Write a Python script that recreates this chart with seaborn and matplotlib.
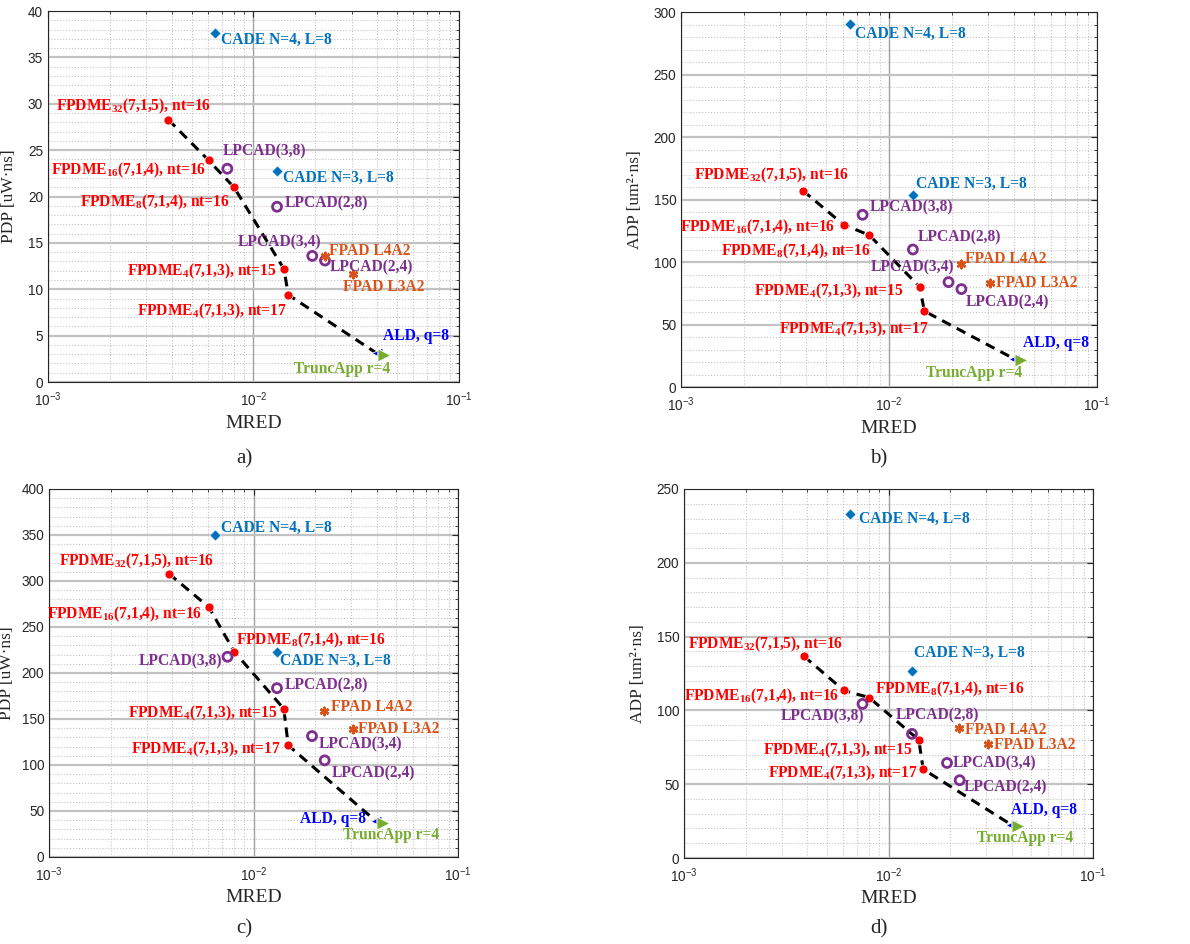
import numpy as np
import pandas as pd
import matplotlib
matplotlib.use('Agg')
import matplotlib.pyplot as plt
import seaborn as sns
from matplotlib.ticker import MultipleLocator, LogLocator, NullFormatter, FixedLocator, FixedFormatter

# data
designs = ['CADE4', 'CADE3', 'FPDME32', 'FPDME16', 'FPDME8', 'FPDME4_15', 'FPDME4_17',
           'LPCAD38', 'LPCAD28', 'LPCAD34', 'LPCAD24', 'FPADL4A2', 'FPADL3A2', 'ALD', 'TRUNC']
families = ['CADE', 'CADE', 'FPDME', 'FPDME', 'FPDME', 'FPDME', 'FPDME',
            'LPCAD', 'LPCAD', 'LPCAD', 'LPCAD', 'FPAD', 'FPAD', 'ALD', 'TruncApp']
labels = ['CADE N=4, L=8', 'CADE N=3, L=8',
          r'FPDME$\mathregular{_{32}}$(7,1,5), nt=16', r'FPDME$\mathregular{_{16}}$(7,1,4), nt=16',
          r'FPDME$\mathregular{_{8}}$(7,1,4), nt=16', r'FPDME$\mathregular{_{4}}$(7,1,3), nt=15',
          r'FPDME$\mathregular{_{4}}$(7,1,3), nt=17',
          'LPCAD(3,8)', 'LPCAD(2,8)', 'LPCAD(3,4)', 'LPCAD(2,4)', 'FPAD L4A2', 'FPAD L3A2',
          'ALD, q=8', 'TruncApp r=4']
mred = [0.00651, 0.01297, 0.00385, 0.00605, 0.00804, 0.01406, 0.01478,
        0.00746, 0.01302, 0.01932, 0.02228, 0.02220, 0.0305, 0.0398, 0.0430]
pdp_a = [37.6, 22.8, 28.3, 23.9, 21.0, 12.2, 9.4, 23.0, 18.9, 13.6, 13.1, 13.6, 11.6, 3.1, 2.9]
adp_b = [290.7, 153.9, 157.3, 129.9, 121.6, 80.0, 60.8, 137.9, 110.1, 84.0, 78.4, 98.7, 83.2, 22.7, 21.9]
pdp_c = [350.4, 223.0, 308.1, 271.5, 223.3, 161.1, 121.3, 217.6, 183.5, 131.4, 105.0, 158.6, 139.4, 38.7, 36.6]
adp_d = [233.0, 126.4, 136.8, 113.5, 108.7, 80.0, 60.1, 104.4, 84.1, 64.4, 52.7, 88.2, 77.1, 22.6, 21.5]
front = ['FPDME32', 'FPDME16', 'FPDME8', 'FPDME4_15', 'FPDME4_17', 'ALD']

df = pd.DataFrame({'design': designs, 'family': families, 'label': labels, 'MRED': mred,
                   'a': pdp_a, 'b': adp_b, 'c': pdp_c, 'd': adp_d})

styles = {
    'CADE': dict(marker='D', color='#0072BD', s=32),
    'FPDME': dict(marker='o', color='#FF0000', s=42),
    'LPCAD': dict(marker='o', facecolor='none', edgecolor='#7E2F8E', s=42, linewidth=2.0),
    'FPAD': dict(marker=(6, 2, 0), color='#D95319', s=28, linewidth=1.8),
    'ALD': dict(marker='<', color='#0000FF', s=60),
    'TruncApp': dict(marker='>', color='#77AC30', s=90),
}
text_colors = {'CADE': '#0072BD', 'FPDME': '#FF0000', 'LPCAD': '#7E2F8E',
               'FPAD': '#D95319', 'ALD': '#0000FF', 'TruncApp': '#77AC30'}

# label placement (pixel offsets from the marker, alignment)
offsets = {
    'a': {'CADE4': (6, -7, 'left'), 'CADE3': (6, -7, 'left'), 'FPDME32': (43, 13, 'right'),
          'FPDME16': (-2, -10, 'right'), 'FPDME8': (-4, -15, 'right'), 'FPDME4_15': (-7, -3, 'right'),
          'FPDME4_17': (-1, -17, 'right'), 'LPCAD38': (-5, 17, 'left'), 'LPCAD28': (8, 3, 'left'),
          'LPCAD34': (9, 14, 'right'), 'LPCAD24': (5, -7, 'left'), 'FPADL4A2': (4, 5, 'left'),
          'FPADL3A2': (-10, -13, 'left'), 'ALD': (6, 17, 'left'), 'TRUNC': (6, -14, 'right')},
    'b': {'CADE4': (5, -10, 'left'), 'CADE3': (3, 11, 'left'), 'FPDME32': (46, 15, 'right'),
          'FPDME16': (-8, -3, 'right'), 'FPDME8': (1, -16, 'right'), 'FPDME4_15': (-16, -4, 'right'),
          'FPDME4_17': (5, -18, 'right'), 'LPCAD38': (7, 7, 'left'), 'LPCAD28': (5, 12, 'left'),
          'LPCAD34': (6, 15, 'right'), 'LPCAD24': (4, -13, 'left'), 'FPADL4A2': (4, 5, 'left'),
          'FPADL3A2': (6, 0, 'left'), 'ALD': (9, 16, 'left'), 'TRUNC': (1, -13, 'right')},
    'c': {'CADE4': (6, 7, 'left'), 'CADE3': (3, -9, 'left'), 'FPDME32': (45, 12, 'right'),
          'FPDME16': (-7, -7, 'right'), 'FPDME8': (2, 11, 'left'), 'FPDME4_15': (-6, -5, 'right'),
          'FPDME4_17': (-7, -4, 'right'), 'LPCAD38': (-5, -5, 'right'), 'LPCAD28': (8, 3, 'left'),
          'LPCAD34': (7, -8, 'left'), 'LPCAD24': (7, -13, 'left'), 'FPADL4A2': (7, 4, 'left'),
          'FPADL3A2': (5, 0, 'left'), 'ALD': (-10, 2, 'right'), 'TRUNC': (56, -12, 'right')},
    'd': {'CADE4': (9, -5, 'left'), 'CADE3': (2, 19, 'left'), 'FPDME32': (39, 12, 'right'),
          'FPDME16': (-5, -6, 'right'), 'FPDME8': (6, 8, 'left'), 'FPDME4_15': (-6, -10, 'right'),
          'FPDME4_17': (-5, -4, 'right'), 'LPCAD38': (2, -12, 'right'), 'LPCAD28': (-16, 18, 'left'),
          'LPCAD34': (6, 0, 'left'), 'LPCAD24': (4, -7, 'left'), 'FPADL4A2': (6, -2, 'left'),
          'FPADL3A2': (6, -1, 'left'), 'ALD': (0, 15, 'left'), 'TRUNC': (55, -12, 'right')},
}

panels = [
    ('a', 'PDP [uW·ns]', 40, 5, 1, [0.0403, 0.5953, 0.3454, 0.3930], (244, 459), -0.075),
    ('b', 'ADP [um²·ns]', 300, 50, 10, [0.5723, 0.5900, 0.3496, 0.3970], (879, 459), -0.092),
    ('c', 'PDP [uW·ns]', 400, 50, 10, [0.0412, 0.0922, 0.3437, 0.3898], (244, 929), -0.083),
    ('d', 'ADP [um²·ns]', 250, 50, 10, [0.5748, 0.0911, 0.3437, 0.3909], (879, 929), -0.093),
]

sns.set_style('white')
plt.rcParams['font.family'] = ['Liberation Serif', 'DejaVu Serif']

fig = plt.figure(figsize=(11.9, 9.44), dpi=100)
W, H = 1190, 944

for key, ylabel, ymax, major, minor, rect, letter, ylab_x in panels:
    ax = fig.add_axes(rect)
    ax.set_xscale('log')
    ax.set_xlim(1e-3, 1e-1)
    ax.set_ylim(0, ymax)

    ax.yaxis.set_major_locator(MultipleLocator(major))
    ax.yaxis.set_minor_locator(MultipleLocator(minor))
    ax.xaxis.set_major_locator(FixedLocator([1e-3, 1e-2, 1e-1]))
    ax.xaxis.set_major_formatter(FixedFormatter([r'$\mathregular{10^{-3}}$', r'$\mathregular{10^{-2}}$',
                                                 r'$\mathregular{10^{-1}}$']))
    ax.xaxis.set_minor_locator(LogLocator(base=10, subs=np.arange(2, 10)))
    ax.xaxis.set_minor_formatter(NullFormatter())

    ax.yaxis.grid(which='major', color='#c2c2c2', linewidth=1.6, linestyle='-')
    ax.xaxis.grid(which='major', color='#a0a0a0', linewidth=1.0, linestyle='-')
    ax.grid(which='minor', color='#c4c4c4', linewidth=0.8, linestyle=':')
    ax.set_axisbelow(True)
    for sp in ax.spines.values():
        sp.set_color('#262626')
        sp.set_linewidth(0.8)
    ax.tick_params(which='both', direction='in', top=True, right=True, color='#262626')
    ax.tick_params(which='major', length=4)
    ax.tick_params(which='minor', length=2)
    ax.tick_params(axis='x', which='major', pad=6)
    for t in ax.get_xticklabels() + ax.get_yticklabels():
        t.set_fontfamily('Liberation Sans')
        t.set_fontsize(9.8)
        t.set_color('#262626')

    # dashed front through FPDME points to ALD
    fr = df.set_index('design').loc[front].reset_index()
    sns.lineplot(data=fr, x='MRED', y=key, sort=False, color='black', linewidth=2.2,
                 linestyle=(0, (3.2, 2.2)), ax=ax, zorder=2)

    for fam, st in styles.items():
        sub = df[df['family'] == fam]
        sns.scatterplot(data=sub, x='MRED', y=key, ax=ax, zorder=3, legend=False, **st)

    for _, row in df.iterrows():
        dx, dy, ha = offsets[key][row['design']]
        ax.annotate(row['label'], (row['MRED'], row[key]), xytext=(dx, dy),
                    textcoords='offset pixels', ha=ha, va='center',
                    fontsize=11.2, fontweight='bold', color=text_colors[row['family']],
                    zorder=4)

    ax.set_xlabel('MRED', fontsize=14, color='#262626', labelpad=4)
    ax.set_ylabel(ylabel, fontsize=12.5, color='#262626')
    ax.yaxis.set_label_coords(ylab_x, 0.5)
    fig.text(letter[0] / W, 1 - letter[1] / H, key + ')', fontsize=15, ha='center', va='center')

fig.savefig('out.png', dpi=100)
